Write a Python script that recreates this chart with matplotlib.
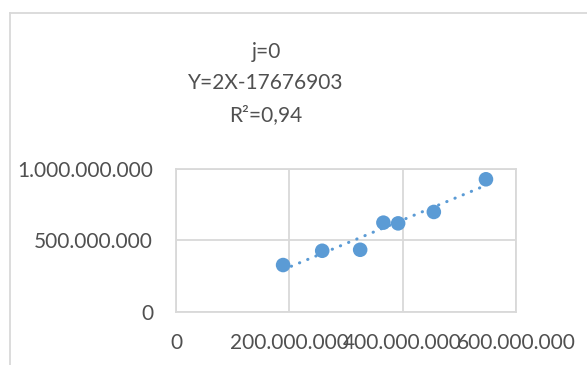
import numpy as np
import matplotlib
matplotlib.use("Agg")
import matplotlib.pyplot as plt
from matplotlib.ticker import FuncFormatter
from matplotlib.lines import Line2D

# values
x_vals = [189e6, 258e6, 325e6, 366e6, 392e6, 455e6, 547e6]
y_vals = [327e6, 427e6, 434e6, 624e6, 619e6, 699e6, 928e6]
title_lines = ["j=0", "Y=2X-17676903", "R\u00b2=0,94"]
x_ticks = [0, 200e6, 400e6, 600e6]
y_ticks = [0, 500e6, 1000e6]

blue = "#5B9BD5"
grey_text = "#505050"
grid_col = "#D9D9D9"

plt.rcParams["font.family"] = ["Lato", "DejaVu Sans"]


def dotted(v, pos):
    return f"{int(round(v)):,}".replace(",", ".")


def main():
    fig = plt.figure(figsize=(5.87, 3.65), dpi=100)
    ax = fig.add_axes([176 / 587, 1 - 311.7 / 365, 340 / 587, 142.7 / 365])

    # chart area border (left and top only, as in the crop)
    fig.add_artist(Line2D([9.5 / 587, 9.5 / 587], [0, 1 - 12.5 / 365],
                          color=grid_col, lw=1.3, transform=fig.transFigure))
    fig.add_artist(Line2D([9.5 / 587, 1], [1 - 12.5 / 365, 1 - 12.5 / 365],
                          color=grid_col, lw=1.3, transform=fig.transFigure))

    # linear trend line
    xs = np.array(x_vals)
    ys = np.array(y_vals)
    k, b = np.polyfit(xs, ys, 1)
    xt = np.array([xs.min(), xs.max()])
    ax.plot(xt, k * xt + b, color=blue, lw=2.2,
            linestyle=(0, (0.1, 2.8)), dash_capstyle="round", zorder=2)

    ax.scatter(xs, ys, s=110, color=blue, edgecolors="none", zorder=3)

    ax.set_xlim(0, 600e6)
    ax.set_ylim(0, 1000e6)
    ax.set_xticks(x_ticks)
    ax.set_yticks(y_ticks)
    ax.xaxis.set_major_formatter(FuncFormatter(dotted))
    ax.yaxis.set_major_formatter(FuncFormatter(dotted))
    ax.tick_params(axis="x", length=0, pad=15, labelsize=15, labelcolor=grey_text)
    ax.tick_params(axis="y", length=0, pad=16.5, labelsize=15, labelcolor=grey_text)
    ax.grid(True, color=grid_col, lw=1.3)
    ax.set_axisbelow(True)
    for s in ax.spines.values():
        s.set_color(grid_col)
        s.set_linewidth(1.3)

    for line, ypx in zip(title_lines, [52, 83, 115]):
        fig.text(266 / 587, 1 - ypx / 365, line, ha="center", va="center",
                 fontsize=15, color=grey_text)

    fig.savefig("out.png", dpi=100)


if __name__ == "__main__":
    main()
